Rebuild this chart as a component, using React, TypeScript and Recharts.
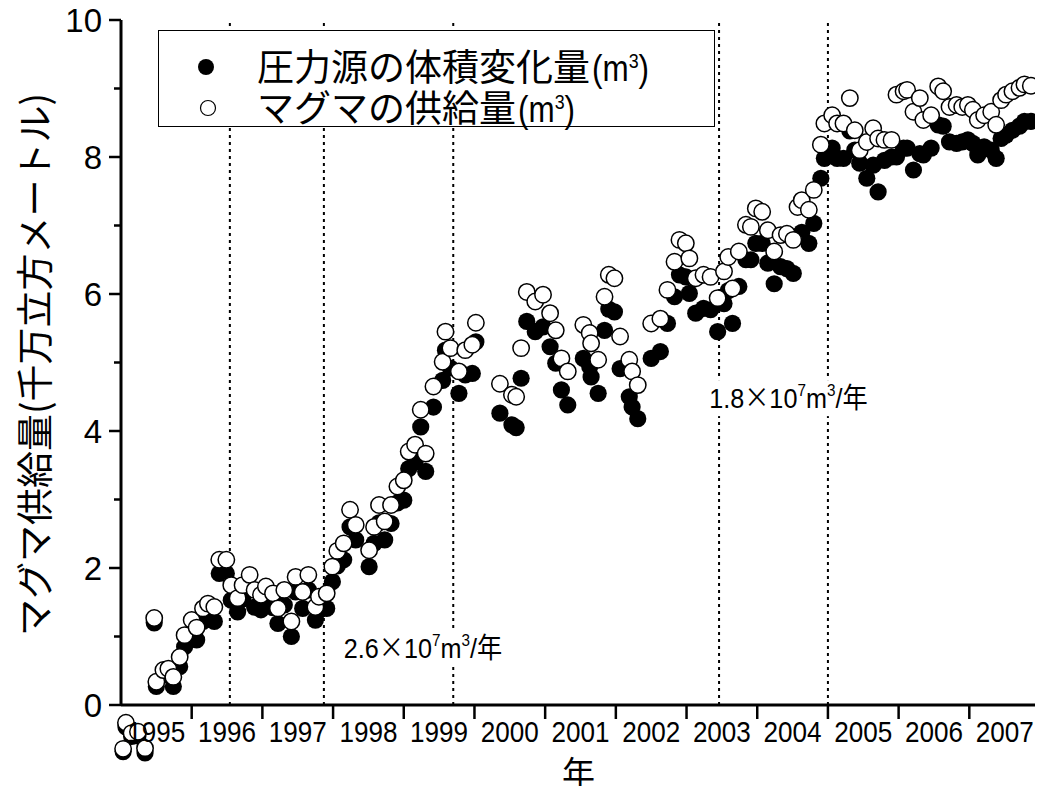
import React from "react";
import {
  ScatterChart,
  Scatter,
  XAxis,
  YAxis,
  ReferenceLine,
  ReferenceDot,
  Legend,
} from "recharts";

// observation times (decimal year)
const dates = [
  1995.03, 1995.07, 1995.15, 1995.24, 1995.34, 1995.47, 1995.5, 1995.6, 1995.67, 1995.74,
  1995.83, 1995.9, 1996.0, 1996.07, 1996.16, 1996.23, 1996.32, 1996.39, 1996.49, 1996.56,
  1996.65, 1996.72, 1996.82, 1996.89, 1996.98, 1997.05, 1997.15, 1997.22, 1997.31, 1997.41,
  1997.47, 1997.57, 1997.65, 1997.75, 1997.8, 1997.91, 1997.99, 1998.06, 1998.15, 1998.24,
  1998.32, 1998.51, 1998.58, 1998.65, 1998.73, 1998.82, 1998.91, 1999.0, 1999.07, 1999.16,
  1999.24, 1999.31, 1999.42, 1999.55, 1999.59, 1999.66, 1999.78, 1999.87, 1999.97, 2000.02,
  2000.36, 2000.53, 2000.59, 2000.66, 2000.74, 2000.86, 2000.97, 2001.07, 2001.15, 2001.23,
  2001.32, 2001.54, 2001.63, 2001.65, 2001.75, 2001.84, 2001.9, 2001.98, 2002.06, 2002.19,
  2002.23, 2002.31, 2002.5, 2002.63, 2002.73, 2002.83, 2002.9, 2002.99, 2003.04, 2003.13,
  2003.24, 2003.34, 2003.44, 2003.53, 2003.59, 2003.65, 2003.74, 2003.84, 2003.91, 2003.98,
  2004.07, 2004.15, 2004.24, 2004.33, 2004.42, 2004.51, 2004.57, 2004.63, 2004.73, 2004.8,
  2004.9, 2004.95, 2005.06, 2005.13, 2005.22, 2005.31, 2005.38, 2005.45, 2005.55, 2005.64,
  2005.71, 2005.8, 2005.9, 2005.97, 2006.07, 2006.12, 2006.21, 2006.3, 2006.35, 2006.46,
  2006.56, 2006.63, 2006.72, 2006.82, 2006.9, 2006.98, 2007.05, 2007.12, 2007.21, 2007.31,
  2007.38, 2007.45, 2007.52, 2007.61, 2007.71, 2007.78, 2007.87,
];

// 圧力源の体積変化量 (1e7 m3)
const sourceVolume = [
  -0.68, -0.32, -0.46, -0.45, -0.7, 1.2, 0.27, 0.44, 0.46, 0.27,
  0.56, 0.85, 1.05, 0.95, 1.22, 1.28, 1.22, 1.92, 1.92, 1.53,
  1.36, 1.55, 1.68, 1.43, 1.39, 1.5, 1.42, 1.19, 1.46, 1.0,
  1.65, 1.41, 1.68, 1.24, 1.38, 1.41, 1.8, 2.03, 2.12, 2.6,
  2.41, 2.02, 2.36, 2.66, 2.41, 2.65, 2.95, 2.99, 3.45, 3.55,
  4.06, 3.41, 4.35, 4.74, 5.18, 4.92, 4.55, 4.82, 4.84, 5.3,
  4.26, 4.09, 4.05, 4.77, 5.6, 5.45, 5.52, 5.23, 4.99, 4.6,
  4.38, 5.06, 4.94, 4.79, 4.55, 5.47, 5.78, 5.74, 4.91, 4.5,
  4.35, 4.18, 5.06, 5.16, 5.57, 5.96, 6.28, 6.25, 6.01, 5.72,
  5.79, 5.77, 5.45, 5.86, 6.05, 5.57, 6.11, 6.5, 6.5, 6.74,
  6.74, 6.45, 6.15, 6.4, 6.37, 6.3, 6.84, 6.9, 6.74, 7.03,
  7.69, 7.98, 8.13, 7.98, 7.98, 8.38, 8.1, 7.91, 7.69, 7.88,
  7.49, 7.95, 8.0, 8.0, 8.13, 8.13, 7.81, 8.05, 8.03, 8.13,
  8.47, 8.45, 8.22, 8.2, 8.22, 8.25, 8.2, 8.03, 8.15, 8.1,
  7.98, 8.27, 8.32, 8.39, 8.45, 8.52, 8.52,
];

// マグマの供給量 (1e7 m3)
const magmaSupply = [
  -0.64, -0.26, -0.41, -0.39, -0.63, 1.27, 0.34, 0.51, 0.53, 0.41,
  0.7, 1.02, 1.24, 1.13, 1.41, 1.48, 1.43, 2.12, 2.12, 1.75,
  1.56, 1.75, 1.9, 1.68, 1.61, 1.73, 1.63, 1.41, 1.68, 1.22,
  1.87, 1.65, 1.9, 1.43, 1.58, 1.63, 2.02, 2.25, 2.36, 2.85,
  2.63, 2.26, 2.6, 2.92, 2.68, 2.92, 3.19, 3.28, 3.7, 3.8,
  4.31, 3.67, 4.65, 5.01, 5.45, 5.21, 4.87, 5.18, 5.26, 5.58,
  4.69, 4.53, 4.5, 5.21, 6.03, 5.89, 5.99, 5.72, 5.47, 5.06,
  4.87, 5.55, 5.43, 5.28, 5.04, 5.96, 6.28, 6.23, 5.38, 5.04,
  4.87, 4.67, 5.57, 5.64, 6.06, 6.47, 6.79, 6.74, 6.52, 6.23,
  6.28, 6.25, 5.94, 6.33, 6.54, 6.08, 6.62, 7.01, 6.98, 7.25,
  7.2, 6.93, 6.62, 6.86, 6.88, 6.79, 7.27, 7.37, 7.23, 7.52,
  8.18, 8.49, 8.61, 8.49, 8.49, 8.86, 8.39, 8.1, 8.22, 8.42,
  8.27, 8.25, 8.25, 8.91, 8.96, 8.98, 8.66, 8.86, 8.54, 8.61,
  9.03, 8.96, 8.73, 8.76, 8.73, 8.76, 8.69, 8.54, 8.61, 8.66,
  8.47, 8.83, 8.91, 8.96, 9.01, 9.06, 9.04,
];

const years = [1995, 1996, 1997, 1998, 1999, 2000, 2001, 2002, 2003, 2004, 2005, 2006, 2007];
const yTicks = [0, 1, 2, 3, 4, 5, 6, 7, 8, 9, 10];
// dotted markers of the rate periods
const periodBreaks = [1996.54, 1997.87, 1999.7, 2003.46, 2005.0];
const rateNotes = [
  { x: 1998.15, y: 0.83, rate: "2.6" },
  { x: 2003.32, y: 4.48, rate: "1.8" },
];

const sourceData = dates.map((t, i) => ({ t, v: sourceVolume[i] }));
const supplyData = dates.map((t, i) => ({ t, v: magmaSupply[i] }));

// labels sit mid-year, tick marks at year boundaries
const bottomTicks = years.flatMap((y) => (y === 1995 ? [y + 0.5] : [y, y + 0.5]));
const topTicks = [...years.flatMap((y) => [y, y + 0.5]), 2008].slice(1, -1);

const LATIN = "'Liberation Sans', Arial, sans-serif";
const CJK = "'Noto Sans CJK JP', sans-serif";

const BottomTick = (props: any) => {
  const { x, y, payload } = props;
  if (Number.isInteger(payload.value)) {
    return <line x1={x} x2={x} y1={y} y2={y + 14} stroke="#000" strokeWidth={2.5} />;
  }
  return (
    <text
      x={x}
      y={y + 37}
      textAnchor="middle"
      fontSize={30}
      fontFamily={LATIN}
      textLength={58}
      lengthAdjust="spacingAndGlyphs"
      fill="#000"
    >
      {Math.floor(payload.value)}
    </text>
  );
};

const TopTick = (props: any) => {
  const { x, y } = props;
  return <line x1={x} x2={x} y1={y} y2={y + 7} stroke="#000" strokeWidth={2} />;
};

const LeftTick = (props: any) => {
  const { x, y, payload } = props;
  const major = payload.value % 2 === 0;
  return (
    <g>
      <line x1={x} x2={x - (major ? 12 : 7)} y1={y} y2={y} stroke="#000" strokeWidth={2.5} />
      {major && (
        <text
          x={x - 19}
          y={y}
          dy={12}
          textAnchor="end"
          fontSize={33}
          fontFamily={LATIN}
          fill="#000"
        >
          {payload.value}
        </text>
      )}
    </g>
  );
};

const RightTick = (props: any) => {
  const { x, y, payload } = props;
  const major = payload.value % 2 === 0;
  return <line x1={x} x2={x - (major ? 12 : 6)} y1={y} y2={y} stroke="#000" strokeWidth={2.5} />;
};

const YTitle = (props: any) => {
  const { x, y, height } = props.viewBox;
  const cx = x + 33;
  const cy = y + height / 2 + 2;
  return (
    <text
      x={cx}
      y={cy}
      transform={`rotate(-90 ${cx} ${cy})`}
      textAnchor="middle"
      dominantBaseline="central"
      fontSize={37}
      fontFamily={CJK}
      fill="#000"
    >
      マグマ供給量(千万立方メートル)
    </text>
  );
};

const XTitle = (props: any) => {
  const { x, y, width } = props.viewBox;
  return (
    <text
      x={x + width / 2 - 2}
      y={y + 80}
      textAnchor="middle"
      fontSize={33}
      fontFamily={CJK}
      fill="#000"
    >
      年
    </text>
  );
};

const RateNote = (props: any) => {
  const { viewBox, rate } = props;
  const x = viewBox.x;
  const y = viewBox.y;
  return (
    <g transform={`translate(${x} ${y}) scale(0.9 1)`}>
      <rect x={-2} y={-18} width={196} height={36} fill="#fff" />
      <text x={0} y={10} fontSize={28} fontFamily={LATIN} fill="#000">
        {rate}
        <tspan fontFamily={CJK}>×</tspan>
        10
        <tspan dy={-12} fontSize={17}>7</tspan>
        <tspan dy={12}>m</tspan>
        <tspan dy={-12} fontSize={17}>3</tspan>
        <tspan dy={12}>/</tspan>
        <tspan fontFamily={CJK}>年</tspan>
      </text>
    </g>
  );
};

const Unit = () => (
  <span
    style={{
      fontFamily: LATIN,
      display: "inline-block",
      transform: "scaleX(0.85)",
      transformOrigin: "left",
      marginLeft: 2,
    }}
  >
    (m
    <span style={{ fontSize: 21, verticalAlign: 13, lineHeight: "20px" }}>3</span>)
  </span>
);

const LegendBox = () => (
  <div
    style={{
      position: "relative",
      width: 557,
      height: 97,
      border: "1.5px solid #000",
      background: "#fff",
      boxSizing: "border-box",
      fontSize: 37,
      lineHeight: "38px",
      color: "#000",
    }}
  >
    <svg width={100} height={97} style={{ position: "absolute", left: 0, top: 0 }}>
      <circle cx={47} cy={36} r={8} fill="#000" />
      <circle cx={49} cy={77} r={7.5} fill="#fff" stroke="#000" strokeWidth={1.2} />
    </svg>
    <div style={{ position: "absolute", left: 98, top: 15, whiteSpace: "nowrap", fontFamily: CJK }}>
      圧力源の体積変化量<Unit />
    </div>
    <div style={{ position: "absolute", left: 98, top: 56, whiteSpace: "nowrap", fontFamily: CJK }}>
      マグマの供給量<Unit />
    </div>
  </div>
);

const filledDot = (p: any) => <circle cx={p.cx} cy={p.cy} r={8.6} fill="#000" />;
const openDot = (p: any) => (
  <circle cx={p.cx} cy={p.cy} r={8.2} fill="#fff" stroke="#000" strokeWidth={1.5} />
);

const App = () => (
  <div style={{ margin: -8, background: "#fff" }}>
    <style>{`.recharts-scatter { clip-path: none; }`}</style>
    <ScatterChart width={1043} height={794} margin={{ top: 20, right: 3, bottom: 0, left: 0 }}>
      <XAxis
        xAxisId="bottom"
        type="number"
        dataKey="t"
        domain={[1995, 2008]}
        allowDataOverflow
        ticks={bottomTicks}
        interval={0}
        tick={<BottomTick />}
        tickLine={false}
        tickSize={0}
        tickMargin={0}
        height={89}
        axisLine={{ stroke: "#000", strokeWidth: 3 }}
        label={XTitle}
      />
      <XAxis
        xAxisId="top"
        orientation="top"
        type="number"
        dataKey="t"
        domain={[1995, 2008]}
        allowDataOverflow
        ticks={topTicks}
        interval={0}
        tick={<TopTick />}
        tickLine={false}
        tickSize={0}
        tickMargin={0}
        height={0}
        axisLine={{ stroke: "#000", strokeWidth: 3 }}
      />
      <YAxis
        yAxisId="left"
        type="number"
        dataKey="v"
        domain={[0, 10]}
        allowDataOverflow
        ticks={yTicks}
        interval={0}
        tick={<LeftTick />}
        tickLine={false}
        tickSize={0}
        tickMargin={0}
        width={121}
        axisLine={{ stroke: "#000", strokeWidth: 3 }}
        label={YTitle}
      />
      <YAxis
        yAxisId="right"
        orientation="right"
        type="number"
        dataKey="v"
        domain={[0, 10]}
        allowDataOverflow
        ticks={yTicks}
        interval={0}
        tick={<RightTick />}
        tickLine={false}
        tickSize={0}
        tickMargin={0}
        width={0}
        axisLine={{ stroke: "#000", strokeWidth: 3 }}
      />
      {periodBreaks.map((x) => (
        <ReferenceLine
          key={x}
          x={x}
          xAxisId="bottom"
          yAxisId="left"
          stroke="#000"
          strokeWidth={2}
          strokeDasharray="3 4"
        />
      ))}
      <Scatter
        name="圧力源の体積変化量"
        data={sourceData}
        xAxisId="bottom"
        yAxisId="left"
        shape={filledDot}
        isAnimationActive={false}
      />
      <Scatter
        name="マグマの供給量"
        data={supplyData}
        xAxisId="top"
        yAxisId="right"
        shape={openDot}
        isAnimationActive={false}
      />
      {rateNotes.map((n) => (
        <ReferenceDot
          key={n.rate}
          x={n.x}
          y={n.y}
          r={0}
          xAxisId="bottom"
          yAxisId="left"
          fill="none"
          stroke="none"
          ifOverflow="visible"
          label={(p: any) => <RateNote {...p} rate={n.rate} />}
        />
      ))}
      <Legend
        layout="vertical"
        align="center"
        verticalAlign="middle"
        content={<LegendBox />}
        wrapperStyle={{ left: 158, top: 30, width: 557, height: 97 }}
      />
    </ScatterChart>
  </div>
);

export default App;
